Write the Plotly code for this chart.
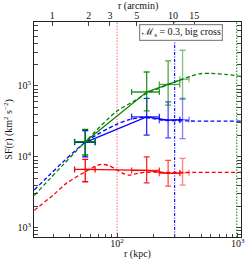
import numpy as np
import plotly.graph_objects as go

# ---------------- data ----------------
# binned structure-function measurements (kpc, km^2 s^-2)
r_obs = [54.5, 176, 265, 349]
r_obs_lo = [44.5, 132, 224, 331]
r_obs_hi = [65.8, 224, 331, 395]

sf_green = [16300, 82000, 105000, 124000]
sf_green_hi = [24300, 157000, 225000, 318000]
sf_green_lo = [10600, 44500, 53400, 64400]

sf_blue = [16000, 36600, 32900, 33500]
sf_blue_hi = [23500, 66600, 59600, 66600]
sf_blue_lo = [10000, 20200, 18500, 18100]

sf_red = [6640, 6430, 5840, 5950]
sf_red_hi = [9200, 10000, 8900, 9500]
sf_red_lo = [4450, 4300, 3860, 3980]

# model curves (dashed)
r_model_green = [20.6, 54.5, 98, 135, 176, 265, 350, 480, 600, 800, 1070]
sf_model_green = [2850, 16300, 43000, 59600, 78000, 104000, 125000, 148000, 150000, 145000, 136000]

r_model_blue = [20.6, 54.5, 98, 127, 163, 200, 265, 400, 1070]
sf_model_blue = [3400, 16000, 28500, 33500, 35900, 34500, 32500, 32000, 31800]

r_model_red = [20.6, 30, 38, 54.5, 65, 74, 86, 98, 112, 126, 145, 175, 250, 1070]
sf_model_red = [1760, 2950, 4220, 6150, 7250, 7820, 7500, 6640, 5850, 5520, 5800, 6050, 6050, 6030]

# characteristic scales (vertical lines), kpc
r_scale_red = 100
r_scale_blue = 300
r_scale_green = 980

KPC_PER_ARCMIN = 29.1
arcmin_ticks = [1, 2, 3, 5, 10, 15]
kpc_ticks = [100, 1000]
kpc_ticktext = ["10<sup>2</sup>", "10<sup>3</sup>"]
sf_ticks = [1e3, 1e4, 1e5]
sf_ticktext = ["10<sup>3</sup>", "10<sup>4</sup>", "10<sup>5</sup>"]
legend_text = "<span style='font-family:DejaVu Serif'>ℳ</span><sub>s</sub> = 0.3, big cross"

# ---------------- style ----------------
X_RANGE = [1.312, 3.027]
Y_RANGE = [2.869, 5.901]
FONT = "Liberation Serif"
GREEN = (0, 128, 0)
BLUE = (0, 0, 255)
RED = (255, 0, 0)
ERR_ALPHA = [1.0, 0.85, 0.7, 0.5]


def rgba(c, a):
    return f"rgba({c[0]},{c[1]},{c[2]},{a})"


fig = go.Figure()

# vertical scale lines
ylim = [10 ** Y_RANGE[0], 10 ** Y_RANGE[1]]
for xv, col, dash, a in [(r_scale_red, RED, "1.5px,1.5px", 0.5),
                         (r_scale_blue, BLUE, "3px,1.5px,1px,1.5px", 0.9),
                         (r_scale_green, GREEN, "1.5px,1.5px", 0.8)]:
    fig.add_trace(go.Scatter(x=[xv, xv], y=ylim, mode="lines",
                             line=dict(color=rgba(col, a), width=1.2, dash=dash),
                             hoverinfo="skip", showlegend=False))

# model curves
for rx, sy, col in [(r_model_red, sf_model_red, RED),
                    (r_model_blue, sf_model_blue, BLUE),
                    (r_model_green, sf_model_green, GREEN)]:
    fig.add_trace(go.Scatter(x=rx, y=sy, mode="lines",
                             line=dict(color=rgba(col, 1), width=1.3, dash="4px,2.5px",
                                       shape="spline", smoothing=0.8),
                             hoverinfo="skip", showlegend=False))

# measurements
for sf, hi, lo, col in [(sf_red, sf_red_hi, sf_red_lo, RED),
                        (sf_blue, sf_blue_hi, sf_blue_lo, BLUE),
                        (sf_green, sf_green_hi, sf_green_lo, GREEN)]:
    fig.add_trace(go.Scatter(x=r_obs, y=sf, mode="lines",
                             line=dict(color=rgba(col, 1), width=1.2),
                             hoverinfo="skip", showlegend=False))
    for i in range(len(r_obs)):
        c = rgba(col, ERR_ALPHA[i])
        fig.add_trace(go.Scatter(
            x=[r_obs[i]], y=[sf[i]], mode="markers",
            marker=dict(size=1, color="rgba(0,0,0,0)"),
            error_y=dict(type="data", symmetric=False,
                         array=[hi[i] - sf[i]], arrayminus=[sf[i] - lo[i]],
                         color=c, thickness=1.3, width=3),
            error_x=dict(type="data", symmetric=False,
                         array=[r_obs_hi[i] - r_obs[i]], arrayminus=[r_obs[i] - r_obs_lo[i]],
                         color=c, thickness=1.3, width=3),
            hoverinfo="skip", showlegend=False))

# invisible trace so that the arcmin axis is drawn
fig.add_trace(go.Scatter(x=arcmin_ticks, y=[sf_ticks[1]] * len(arcmin_ticks), xaxis="x2",
                         mode="markers", marker=dict(size=1, color="rgba(0,0,0,0)"),
                         hoverinfo="skip", showlegend=False))

axis_common = dict(type="log", showgrid=False, zeroline=False, automargin=False,
                   linecolor="#222", linewidth=1.2, ticks="inside", ticklen=4,
                   tickcolor="#444", tickwidth=1,
                   tickfont=dict(family=FONT, size=10, color="#111"))

x_minor = [m * 10 ** e for e in (1, 2) for m in range(2, 10) if 10 ** X_RANGE[0] < m * 10 ** e < 10 ** X_RANGE[1]]
y_minor = [m * 10 ** e for e in (2, 3, 4, 5) for m in range(2, 10) if 10 ** Y_RANGE[0] < m * 10 ** e < 10 ** Y_RANGE[1]]

fig.update_layout(
    width=249, height=262,
    margin=dict(l=34, r=7.5, t=21.7, b=25, autoexpand=False),
    paper_bgcolor="white", plot_bgcolor="white",
    font=dict(family=FONT, size=10, color="#111"),
    showlegend=False,
    xaxis=dict(**axis_common, range=X_RANGE, mirror=True,
               tickmode="array", tickvals=kpc_ticks, ticktext=kpc_ticktext,
               ticklabelstandoff=-3,
               minor=dict(tickmode="array", tickvals=x_minor, ticks="inside",
                          ticklen=2.5, tickcolor="#444", showgrid=False)),
    yaxis=dict(**axis_common, range=Y_RANGE, mirror="allticks",
               tickmode="array", tickvals=sf_ticks, ticktext=sf_ticktext,
               minor=dict(tickmode="array", tickvals=y_minor, ticks="inside",
                          ticklen=2.5, tickcolor="#444", showgrid=False)),
    xaxis2=dict(type="log", overlaying="x", side="top", anchor="y", automargin=False,
                range=[X_RANGE[0] - np.log10(KPC_PER_ARCMIN), X_RANGE[1] - np.log10(KPC_PER_ARCMIN)],
                tickmode="array", tickvals=arcmin_ticks, ticktext=[str(t) for t in arcmin_ticks],
                ticks="inside", ticklen=4, tickcolor="#444", showline=False,
                showgrid=False, zeroline=False,
                tickfont=dict(family=FONT, size=10, color="#111")),
)

fig.add_annotation(text="r (kpc)", xref="paper", yref="paper", x=0.5, y=-0.079,
                   showarrow=False, xanchor="center", yanchor="middle",
                   font=dict(family=FONT, size=10))
fig.add_annotation(text="r (arcmin)", xref="paper", yref="paper", x=0.5, y=1.073,
                   showarrow=False, xanchor="center", yanchor="middle",
                   font=dict(family=FONT, size=10))
fig.add_annotation(text="SF(r) (km<sup>2</sup> s<sup>−2</sup>)", xref="paper", yref="paper",
                   x=-0.125, y=0.5, textangle=-90, showarrow=False,
                   xanchor="center", yanchor="middle", font=dict(family=FONT, size=10))
fig.add_annotation(text=legend_text, xref="paper", yref="paper", x=0.708, y=0.95,
                   showarrow=False, xanchor="center", yanchor="middle",
                   bordercolor="#888", borderwidth=1.2, borderpad=1, bgcolor="white",
                   font=dict(family=FONT, size=10))

fig.write_html("out.html", config={"displayModeBar": False},
               post_script="document.body.style.margin='0';document.body.style.padding='0';")
